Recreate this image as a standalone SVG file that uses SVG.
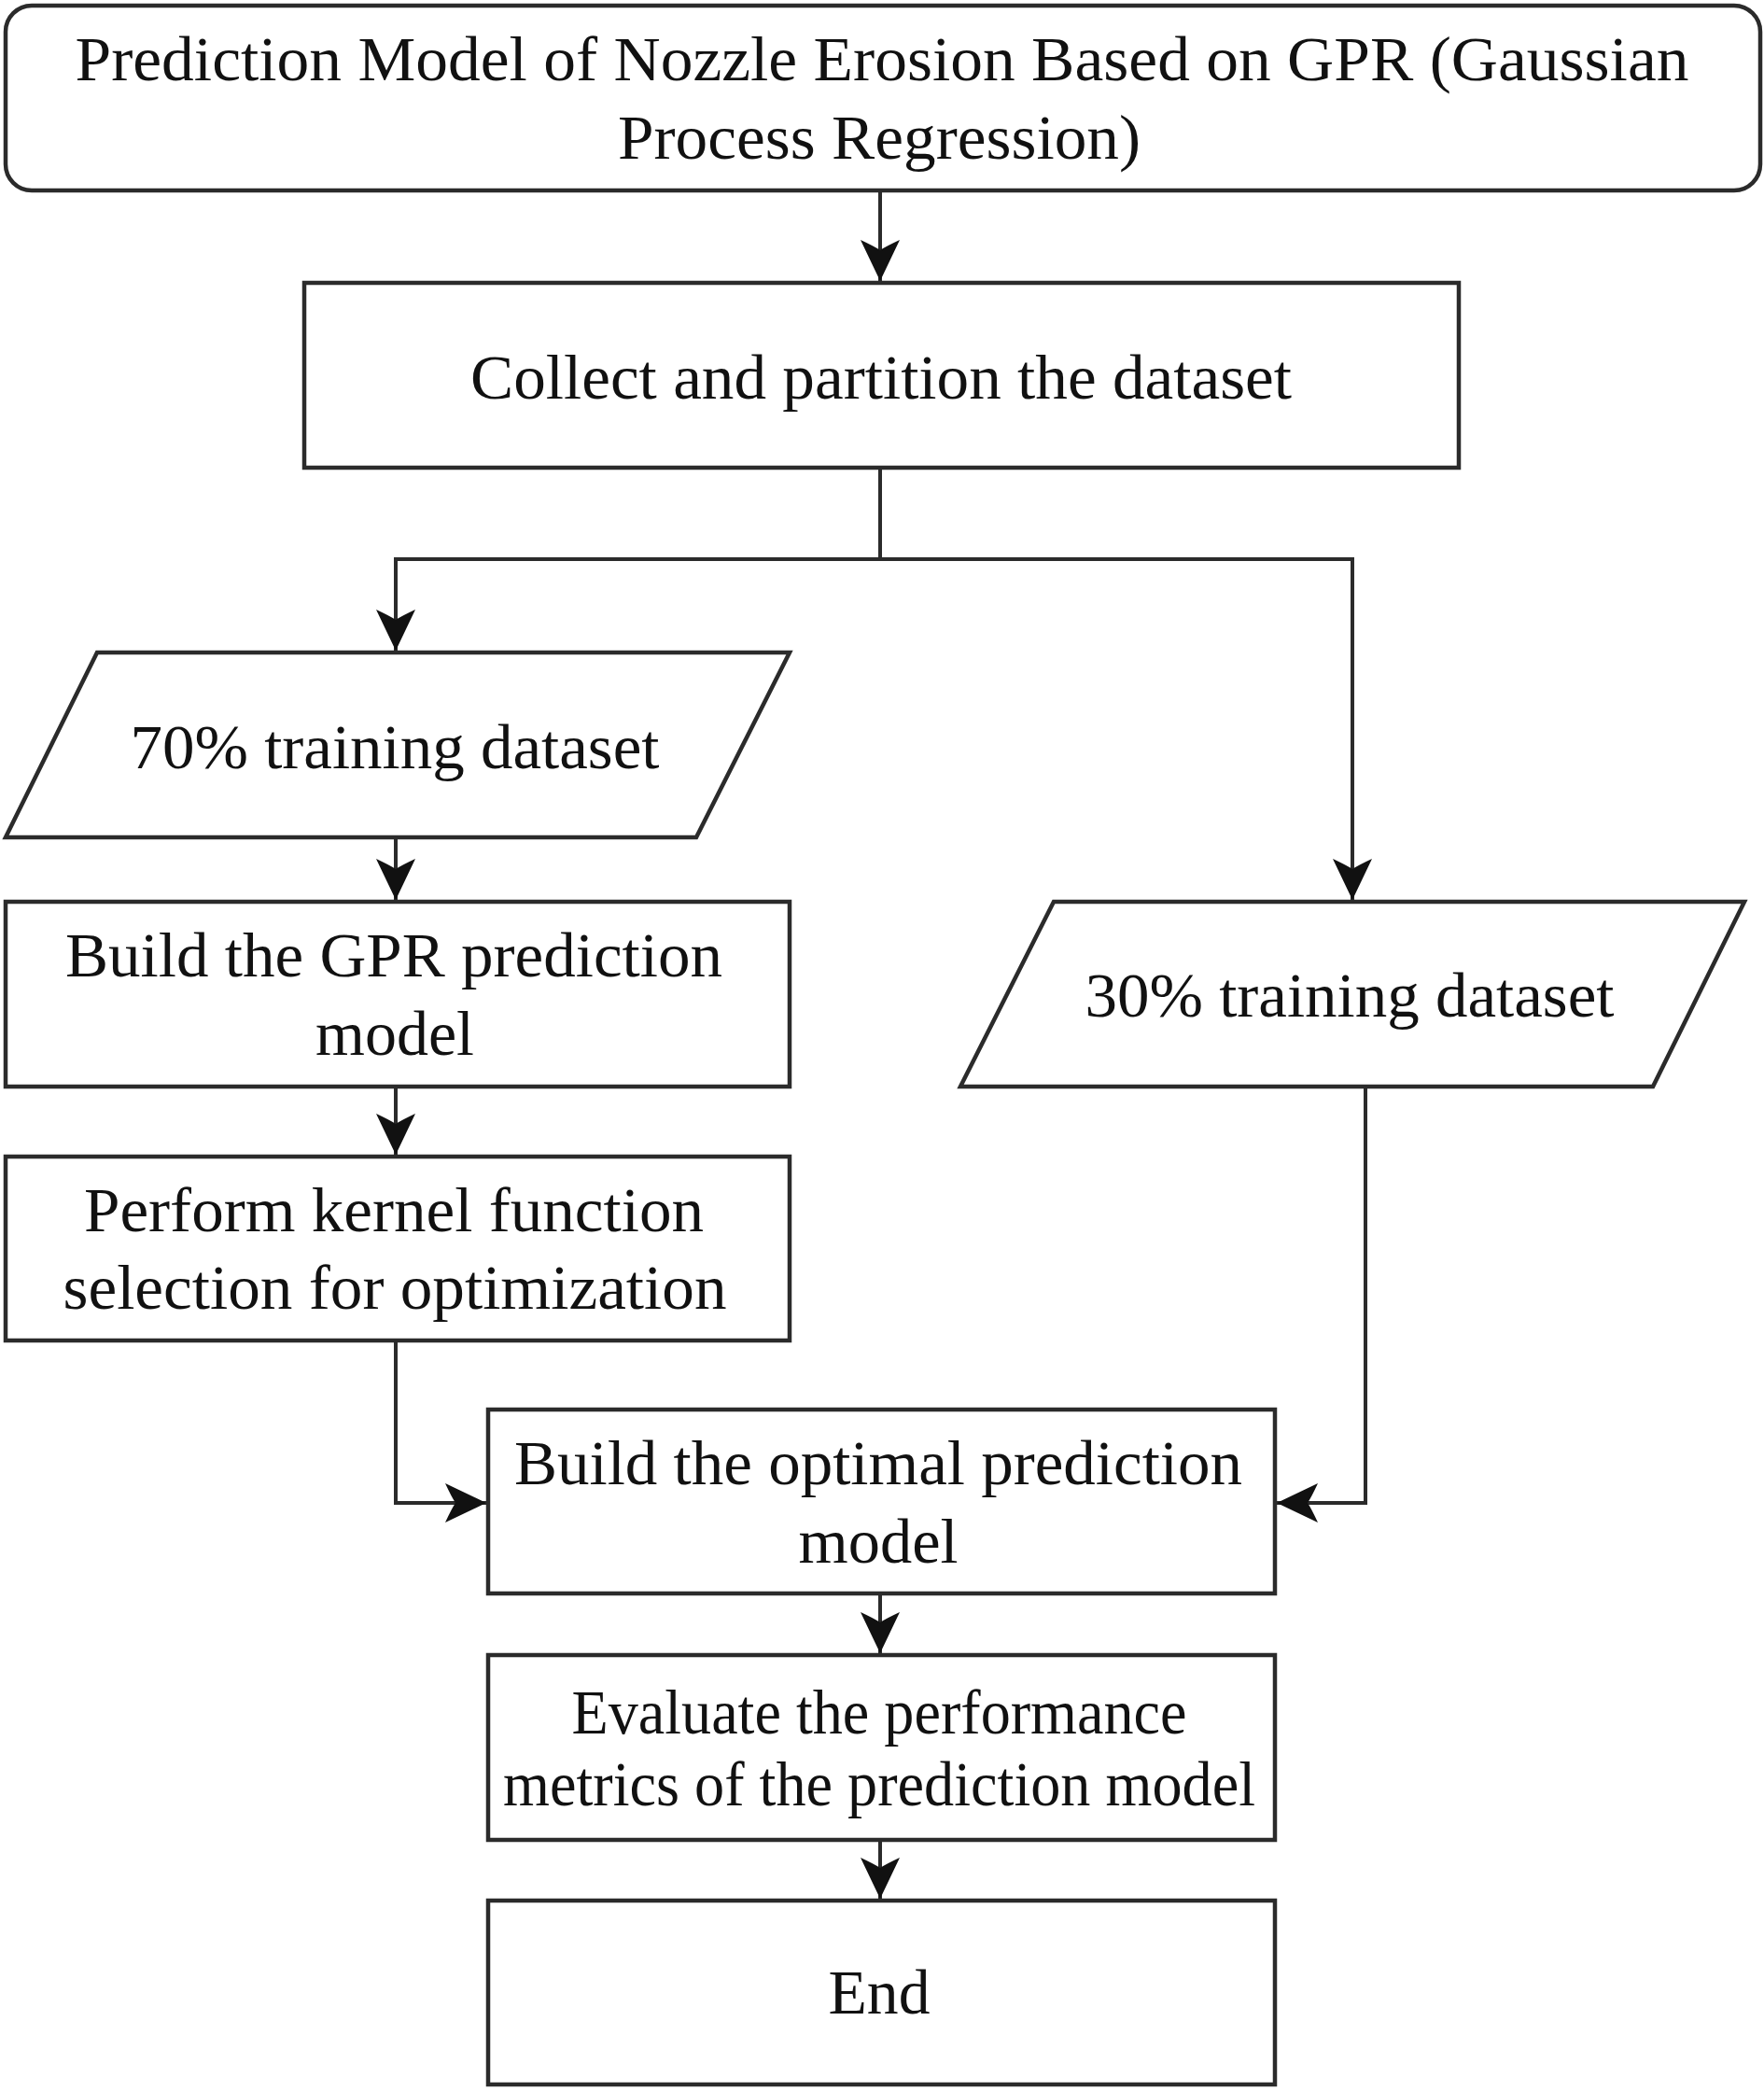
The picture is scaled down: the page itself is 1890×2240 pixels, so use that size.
<svg xmlns="http://www.w3.org/2000/svg" width="1890" height="2240" viewBox="0 0 1890 2240">
<style>
.box{fill:#fff;stroke:#2b2b2b;stroke-width:4.5}
.t{font-family:"Liberation Serif","Times New Roman",serif;font-size:68px;fill:#111;text-anchor:middle}
.c{fill:none;stroke:#2b2b2b;stroke-width:4}
</style>
<defs>
<marker id="ah" viewBox="-46 -24 48 48" refX="0" refY="0" markerWidth="48" markerHeight="48" markerUnits="userSpaceOnUse" orient="auto">
<path d="M0,0 L-44,-21 Q-37,-6 -33,0 Q-37,6 -44,21 Z" fill="#111"/>
</marker>
</defs>
<rect width="1890" height="2240" fill="#fff"/>
<g id="connectors">
<path class="c" d="M943,204 V301" marker-end="url(#ah)"/>
<path class="c" d="M943,501 V599 H424 V697" marker-end="url(#ah)"/>
<path class="c" d="M943,599 H1449 V964" marker-end="url(#ah)"/>
<path class="c" d="M424,897 V964" marker-end="url(#ah)"/>
<path class="c" d="M424,1164 V1237" marker-end="url(#ah)"/>
<path class="c" d="M424,1436 V1610 H521" marker-end="url(#ah)"/>
<path class="c" d="M1463,1164 V1610 H1368" marker-end="url(#ah)"/>
<path class="c" d="M943,1707 V1771" marker-end="url(#ah)"/>
<path class="c" d="M943,1971 V2034" marker-end="url(#ah)"/>
</g>
<g id="start">
<rect class="box" x="6" y="6" width="1880" height="198" rx="28" ry="28"/>
<text class="t" x="945" y="86" textLength="1729" lengthAdjust="spacingAndGlyphs">Prediction Model of Nozzle Erosion Based on GPR (Gaussian</text>
<text class="t" x="942" y="170" textLength="560" lengthAdjust="spacingAndGlyphs">Process Regression)</text>
</g>
<g id="collect">
<rect class="box" x="326" y="303" width="1237" height="198"/>
<text class="t" x="944" y="427" textLength="880" lengthAdjust="spacingAndGlyphs">Collect and partition the dataset</text>
</g>
<g id="train70">
<polygon class="box" points="104,699 846,699 746,897 6,897"/>
<text class="t" x="423" y="823" textLength="567" lengthAdjust="spacingAndGlyphs">70% training dataset</text>
</g>
<g id="buildgpr">
<rect class="box" x="6" y="966" width="840" height="198"/>
<text class="t" x="422" y="1046" textLength="704" lengthAdjust="spacingAndGlyphs">Build the GPR prediction</text>
<text class="t" x="423" y="1130" textLength="170" lengthAdjust="spacingAndGlyphs">model</text>
</g>
<g id="kernel">
<rect class="box" x="6" y="1239" width="840" height="197"/>
<text class="t" x="422" y="1319" textLength="664" lengthAdjust="spacingAndGlyphs">Perform kernel function</text>
<text class="t" x="423" y="1402" textLength="711" lengthAdjust="spacingAndGlyphs">selection for optimization</text>
</g>
<g id="train30">
<polygon class="box" points="1129,966 1869,966 1771,1164 1029,1164"/>
<text class="t" x="1446" y="1089" textLength="567" lengthAdjust="spacingAndGlyphs">30% training dataset</text>
</g>
<g id="optimal">
<rect class="box" x="523" y="1510" width="843" height="197"/>
<text class="t" x="941" y="1590" textLength="780" lengthAdjust="spacingAndGlyphs">Build the optimal prediction</text>
<text class="t" x="941" y="1674" textLength="171" lengthAdjust="spacingAndGlyphs">model</text>
</g>
<g id="evaluate">
<rect class="box" x="523" y="1773" width="843" height="198"/>
<text class="t" x="942" y="1857" textLength="659" lengthAdjust="spacingAndGlyphs">Evaluate the performance</text>
<text class="t" x="942" y="1934" textLength="806" lengthAdjust="spacingAndGlyphs">metrics of the prediction model</text>
</g>
<g id="end">
<rect class="box" x="523" y="2036" width="843" height="197"/>
<text class="t" x="942" y="2157" textLength="109" lengthAdjust="spacingAndGlyphs">End</text>
</g>
</svg>
